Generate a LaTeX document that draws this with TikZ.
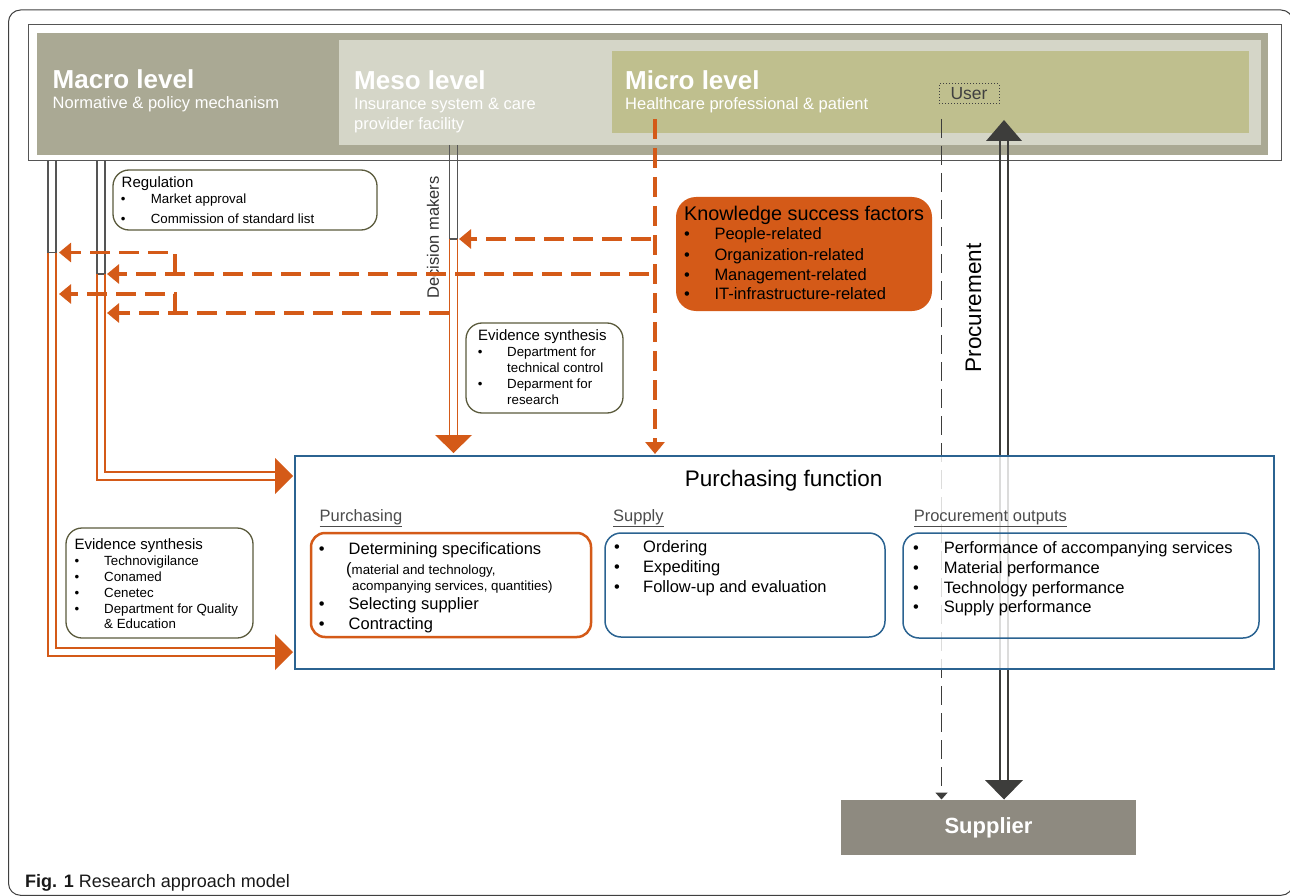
\documentclass[tikz,border=0pt]{standalone}
\usepackage{fontspec}
\setmainfont{Liberation Sans}
\usetikzlibrary{arrows.meta}
\definecolor{macroC}{HTML}{AAA994}
\definecolor{mesoC}{HTML}{D5D6C8}
\definecolor{microC}{HTML}{BFBF8E}
\definecolor{orangeC}{HTML}{D45A18}
\definecolor{blueC}{HTML}{2B6391}
\definecolor{oliveC}{HTML}{5A5A3C}
\definecolor{supC}{HTML}{8E8A80}
\definecolor{darkC}{HTML}{3D3D3B}
\definecolor{lineC}{HTML}{555555}
\newcommand{\fs}[2]{\fontsize{#1}{#2}\selectfont}
\newcommand{\bul}[2]{\makebox[#1][l]{\textbullet}#2}
\begin{document}
\begin{tikzpicture}[x=1pt,y=-1pt,
  t/.style={inner sep=0pt,anchor=base west},
  area/.style={inner sep=0pt,draw=none,fill=#1},
  olivebox/.style={draw=oliveC,line width=1.3pt,rounded corners=16pt,inner sep=0pt},
  bluebox/.style={draw=blueC,line width=1.5pt,rounded corners=16pt,inner sep=0pt},
  orangebox/.style={draw=orangeC,line width=2.5pt,rounded corners=14pt,inner sep=0pt},
  greyline/.style={draw=lineC,line width=1.2pt},
  orline/.style={draw=orangeC,line width=1.5pt},
  ordash/.style={draw=orangeC,line width=3.4pt,dash pattern=on 20pt off 9pt,-{Triangle[length=12pt,width=19pt]}},
  hd/.style={t,text=black!70,font=\fs{16.5}{20}},
  it/.style={t,font=\fs{16.5}{20}},
  sm/.style={t,font=\fs{13.3}{16}},
]
\useasboundingbox (0,0) rectangle (1290,896);
% figure frame
\draw[black!75,line width=1pt,rounded corners=12pt] (8.5,10) rectangle (1293,895.3);
% header
\node[draw=lineC,line width=1pt,minimum width=1253pt,minimum height=136pt,inner sep=0pt] (hframe) at (654.5,93) {};
\node[area=macroC,minimum width=1231pt,minimum height=122pt] (macro) at (652.5,94) {};
\node[area=mesoC,minimum width=922pt,minimum height=105pt] (meso) at (800,92.5) {};
\node[area=microC,minimum width=637pt,minimum height=82pt] (micro) at (930.5,92) {};
\node[t,text=white,font=\fs{26}{30}\bfseries] (macroT) at (52.5,89) {Macro level};
\node[t,text=white,font=\fs{16.5}{20}] (macroS) at (52.5,109) {Normative \& policy mechanism};
\node[t,text=white,font=\fs{26}{30}\bfseries] (mesoT) at (354,90) {Meso level};
\node[t,text=white,font=\fs{16.5}{20}] (mesoS1) at (354,110) {Insurance system \& care};
\node[t,text=white,font=\fs{16.5}{20}] (mesoS2) at (354,130) {provider facility};
\node[t,text=white,font=\fs{26}{30}\bfseries] (microT) at (625,90) {Micro level};
\node[t,text=white,font=\fs{16.5}{20}] (microS) at (625,110) {Healthcare professional \& patient};
\node[draw=black!75,dotted,line width=1pt,minimum width=60pt,minimum height=20pt,inner sep=0pt,text=black!75,font=\fs{17.5}{20}] (user) at (969,94) {User};

% coordinates
\coordinate (a1o) at (48,161);   \coordinate (a1i) at (56,161);
\coordinate (a1ob) at (48,252.5); \coordinate (a1ib) at (56,252.5);
\coordinate (a2o) at (97,161);   \coordinate (a2i) at (105,161);
\coordinate (a2ob) at (97,274);  \coordinate (a2ib) at (105,274);
\coordinate (dmo) at (449.5,145); \coordinate (dmi) at (457.5,145);
\coordinate (dmob) at (449.5,239); \coordinate (dmib) at (457.5,239);
\coordinate (e1o) at (275,656);  \coordinate (e1i) at (275,648);
\coordinate (e2o) at (275,480);  \coordinate (e2i) at (275,472);
\coordinate (e3o) at (449.5,436); \coordinate (e3i) at (457.5,436);

% pair 1
\draw[greyline] (a1o) -- (a1ob) -- (a1ib) -- (a1i);
\draw[orline] (a1ob) |- (e1o);
\draw[orline] (a1ib) |- (e1i);
\fill[orangeC] (275,634) -- (275,670) -- (293,652) -- cycle;
% pair 2
\draw[greyline] (a2o) -- (a2ob) -- (a2ib) -- (a2i);
\draw[orline] (a2ob) |- (e2o);
\draw[orline] (a2ib) |- (e2i);
\fill[orangeC] (275,458) -- (275,494) -- (293,476) -- cycle;
% decision makers pair
\draw[greyline] (dmo) -- (dmob) -- (dmib) -- (dmi);
\draw[orline] (dmob) -- (e3o);
\draw[orline] (dmib) -- (e3i);
\fill[orangeC] (435,435) -- (472,435) -- (453.5,453) -- cycle;
\node[rotate=90,inner sep=0pt,text=black!80,font=\fs{16.5}{20}] (dmT) at (433,237.5) {Decision makers};

% dashed orange arrows
\coordinate (mic0) at (655,119); \coordinate (mic1) at (655,454);
\draw[ordash] (mic0) -- (mic1);
\coordinate (r1) at (651,239); \coordinate (r1e) at (459,239);
\draw[ordash] (r1) -- (r1e);
\coordinate (r2) at (649,274); \coordinate (r2e) at (107,274);
\coordinate (r2b) at (175,274); \coordinate (r2be) at (59,252.5);
\draw[ordash] (r2) -- (r2e);
\draw[ordash] (r2b) |- (r2be);
\coordinate (r3) at (449,313); \coordinate (r3e) at (107,313);
\coordinate (r3b) at (175,313); \coordinate (r3be) at (59,294);
\draw[ordash] (r3) -- (r3e);
\draw[ordash] (r3b) |- (r3be);

% user dashed line and procurement double line
\coordinate (u0) at (941.5,119); \coordinate (u1) at (941.5,799.5);
\draw[darkC,line width=1.8pt,dash pattern=on 19pt off 8pt,-{Triangle[length=7pt,width=12pt]}] (u0) -- (u1);
\coordinate (pa0) at (1000,141); \coordinate (pa1) at (1000,780);
\coordinate (pb0) at (1008,141); \coordinate (pb1) at (1008,780);
\draw[darkC,line width=1.5pt] (pa0) -- (pa1);
\draw[darkC,line width=1.5pt] (pb0) -- (pb1);
\fill[darkC] (986,141) -- (1022,141) -- (1004,120) -- cycle;
\fill[darkC] (985,780) -- (1023,780) -- (1004,799.5) -- cycle;
\node[rotate=90,inner sep=0pt,font=\fs{22.5}{26}] (procT) at (973.5,308) {Procurement};

% knowledge success factors
\node[area=orangeC,rounded corners=20pt,minimum width=256pt,minimum height=114pt] (ksf) at (804,254) {};
\node[t,font=\fs{19.8}{24}] (ksfT) at (684,220) {Knowledge success factors};
\node[it] (k1) at (684,240) {\bul{30.3pt}{People-related}};
\node[it] (k2) at (684,260) {\bul{30.3pt}{Organization-related}};
\node[it] (k3) at (684,280) {\bul{30.3pt}{Management-related}};
\node[it] (k4) at (684,299.5) {\bul{30.3pt}{IT-infrastructure-related}};

% regulation
\node[olivebox,minimum width=264pt,minimum height=60pt] (reg) at (245,200) {};
\node[t,font=\fs{15}{18}] (regT) at (121.5,188) {Regulation};
\node[sm] (reg1) at (120.7,204) {\bul{30pt}{Market approval}};
\node[sm] (reg2) at (120.7,224) {\bul{30pt}{Commission of standard list}};

% evidence synthesis 1
\node[olivebox,minimum width=157pt,minimum height=90pt] (ev1) at (544.5,368) {};
\node[t,font=\fs{15}{18}] (ev1T) at (478,340) {Evidence synthesis};
\node[sm] (ev11) at (477.7,356) {\bul{29.3pt}{Department for}};
\node[sm] (ev12) at (507,372) {technical control};
\node[sm] (ev13) at (477.7,388) {\bul{29.3pt}{Deparment for}};
\node[sm] (ev14) at (507,404) {research};

% evidence synthesis 2
\node[olivebox,minimum width=187pt,minimum height=110pt] (ev2) at (159.5,583) {};
\node[t,font=\fs{15}{18}] (ev2T) at (74.3,549) {Evidence synthesis};
\node[sm] (ev21) at (74.4,565) {\bul{29.6pt}{Technovigilance}};
\node[sm] (ev22) at (74.4,581) {\bul{29.6pt}{Conamed}};
\node[sm] (ev23) at (74.4,597) {\bul{29.6pt}{Cenetec}};
\node[sm] (ev24) at (74.4,613) {\bul{29.6pt}{Department for Quality}};
\node[sm] (ev25) at (104,628) {\& Education};

% purchasing function
\node[draw=blueC,line width=1.5pt,fill=white,fill opacity=0.82,minimum width=979pt,minimum height=213pt,inner sep=0pt] (pf) at (784.5,562.5) {};
\node[t,font=\fs{22.5}{26}] (pfT) at (684.6,486.7) {Purchasing function};
\node[hd] (h1) at (319.5,521.5) {\underline{Purchasing}};
\node[hd] (h2) at (613,521.5) {\underline{Supply}};
\node[hd] (h3) at (913.6,521.5) {\underline{Procurement outputs}};

\node[orangebox,minimum width=280pt,minimum height=104pt] (pbox) at (451,585) {};
\node[it] (p1) at (318.7,554) {\bul{29.8pt}{Determining specifications}};
\node[t,font=\fs{13.3}{16}] (p2) at (346,574) {{\fs{16.5}{20}(}material and technology,};
\node[sm] (p3) at (352,590) {acompanying services, quantities)};
\node[it] (p4) at (318.7,609) {\bul{29.8pt}{Selecting supplier}};
\node[it] (p5) at (318.7,629) {\bul{29.8pt}{Contracting}};

\node[bluebox,minimum width=280pt,minimum height=104pt] (sbox) at (745,585) {};
\node[it] (s1) at (614,552) {\bul{29pt}{Ordering}};
\node[it] (s2) at (614,572) {\bul{29pt}{Expediting}};
\node[it] (s3) at (614,592) {\bul{29pt}{Follow-up and evaluation}};

\node[bluebox,minimum width=356pt,minimum height=105pt] (obox) at (1081,585.5) {};
\node[it] (o1) at (913,553) {\bul{30.6pt}{Performance of accompanying services}};
\node[it] (o2) at (913,573) {\bul{30.6pt}{Material performance}};
\node[it] (o3) at (913,593) {\bul{30.6pt}{Technology performance}};
\node[it] (o4) at (913,612) {\bul{30.6pt}{Supply performance}};

% supplier
\node[area=supC,minimum width=295pt,minimum height=55pt,text=white,font=\fs{22}{26}\bfseries] (sup) at (988.5,827.5) {Supplier};

% caption
\node[t,font=\fs{18}{20},text=black!90] (cap) at (25,887) {\textbf{Fig. 1} Research approach model};
\end{tikzpicture}
\end{document}
